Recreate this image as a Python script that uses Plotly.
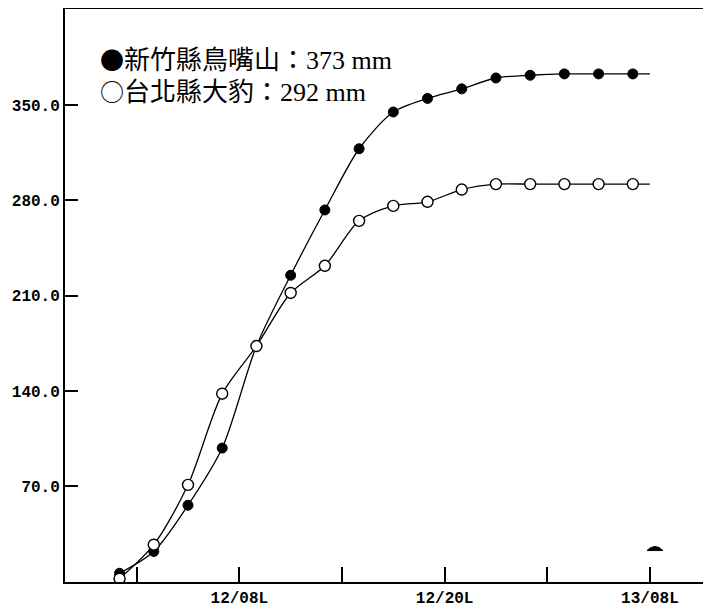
import plotly.graph_objects as go

# Hours since 12/00 (local); markers every 2 hours
hours = [1, 3, 5, 7, 9, 11, 13, 15, 17, 19, 21, 23, 25, 27, 29, 31]
line_end_hour = 32
wuzuishan = [6, 22, 56, 98, 173, 225, 273, 318, 345, 355, 362, 370, 372, 373, 373, 373]
dabao = [2, 27, 71, 138, 173, 212, 232, 265, 276, 279, 288, 292, 292, 292, 292, 292]

legend_1_sym, legend_1 = "●", "新竹縣鳥嘴山：373 mm"
legend_2_sym, legend_2 = "○", "台北縣大豹：292 mm"

x_tickvals = [2, 8, 14, 20, 26, 32]
x_ticktext = ["", "12/08L", "", "12/20L", "", "13/08L"]
y_tickvals = [70, 140, 210, 280, 350]
y_ticktext = ["70.0", "140.0", "210.0", "280.0", "350.0"]

fig = go.Figure()

# line continues to the end hour without a marker
fig.add_trace(go.Scatter(
    x=hours + [line_end_hour], y=wuzuishan + [wuzuishan[-1]],
    mode="lines", line=dict(color="black", width=1.3, shape="spline", smoothing=0.8),
    hoverinfo="skip", showlegend=False))
fig.add_trace(go.Scatter(
    x=hours + [line_end_hour], y=dabao + [dabao[-1]],
    mode="lines", line=dict(color="black", width=1.3, shape="spline", smoothing=0.8),
    hoverinfo="skip", showlegend=False))
fig.add_trace(go.Scatter(
    x=hours, y=wuzuishan, mode="markers",
    marker=dict(symbol="circle", size=10, color="black", line=dict(color="black", width=1)),
    showlegend=False))
fig.add_trace(go.Scatter(
    x=hours, y=dabao, mode="markers",
    marker=dict(symbol="circle", size=11, color="white", line=dict(color="black", width=1.4)),
    showlegend=False))

# page has an 8px body margin; figure is drawn 8px right/down
OFF = 8
W, H = 711 - OFF, 608 - OFF
ml, mt, mb, mr = 65 - OFF, 0.5, 25.5, 0
pw = W - ml - mr
ph = H - mt - mb

def px(xp):  # page pixel -> paper
    return (xp - OFF - ml) / pw

def py(yp):
    return (H - mb - (yp - OFF)) / ph

legend_font = dict(family="Liberation Serif, Noto Sans CJK TC, serif", size=26, color="black")
sym_style = "font-family:'Noto Sans CJK TC';font-size:24px"
fig.add_annotation(text=f"<span style=\"{sym_style}\">{legend_1_sym}</span>{legend_1}",
                   xref="paper", yref="paper", x=px(98), y=py(58),
                   xanchor="left", yanchor="middle", showarrow=False, font=legend_font)
fig.add_annotation(text=f"<span style=\"{sym_style}\">{legend_2_sym}</span>{legend_2}",
                   xref="paper", yref="paper", x=px(98), y=py(90),
                   xanchor="left", yanchor="middle", showarrow=False, font=legend_font)

# small dark mark near the bottom right in the reference
fig.add_shape(type="path", xref="paper", yref="paper",
              path=f"M {px(647)} {py(551)} Q {px(655)} {py(543)} {px(663)} {py(551)} Z",
              fillcolor="black", line=dict(color="black", width=1))

tick_font = dict(family="Liberation Mono, Courier New, monospace", size=16, color="black", weight="bold")

fig.update_layout(
    width=W, height=H,
    margin=dict(l=ml, r=mr, t=mt, b=mb, pad=0),
    paper_bgcolor="white", plot_bgcolor="white",
    showlegend=False,
    xaxis=dict(range=[-2.19, 35.57], tickvals=x_tickvals, ticktext=x_ticktext,
               ticks="inside", ticklen=15, tickwidth=1.5, tickcolor="black",
               showline=True, linecolor="black", linewidth=2, mirror=True,
               showgrid=False, zeroline=False, tickfont=tick_font),
    yaxis=dict(range=[-0.4, 420.7], tickvals=y_tickvals, ticktext=y_ticktext,
               ticks="inside", ticklen=13, tickwidth=1.5, tickcolor="black",
               showline=True, linecolor="black", linewidth=2, mirror=False,
               showgrid=False, zeroline=False, tickfont=tick_font),
)

fig.write_html("out.html")
